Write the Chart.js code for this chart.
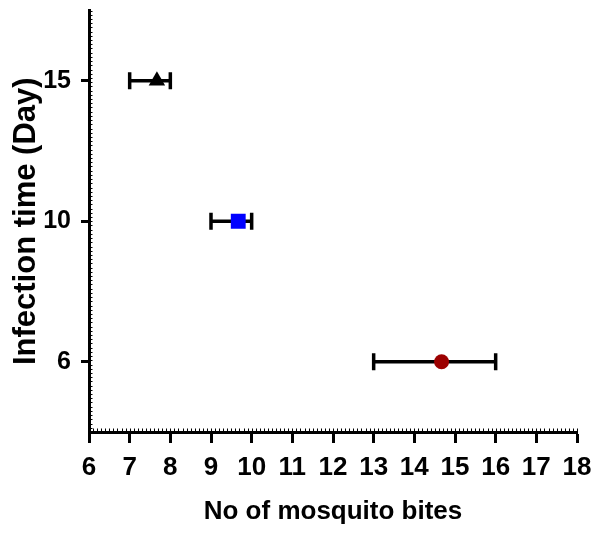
<!DOCTYPE html>
<html><head><meta charset="utf-8">
<script src="https://cdn.jsdelivr.net/npm/chart.js@4"></script>
<style>html,body{margin:0;padding:0;background:#fff}#wrap{width:592px;height:533px;position:relative}</style>
</head><body><div id="wrap"><canvas id="c"></canvas></div>
<script>
const categories = ['6', '10', '15'];
const meanBites = [14.67, 9.67, 7.67];
const lowBites = [13, 9, 7];
const highBites = [16, 10, 8];
const xMin = 6, xMax = 18;
const xTitle = 'No of mosquito bites';
const yTitle = 'Infection time (Day)';
const pointStyles = ['circle', 'rect', 'triangle'];
const pointColors = ['#9c0000', '#0000ff', '#000000'];
const pointRadii = [7.5, 10.5, 9.5];

const datasets = categories.map((c, i) => ({
  label: 'Day ' + c,
  data: [{ x: meanBites[i], y: i, low: lowBites[i], high: highBites[i] }],
  pointStyle: pointStyles[i],
  backgroundColor: pointColors[i],
  borderColor: pointColors[i],
  borderWidth: 0,
  pointRadius: pointRadii[i],
  pointHoverRadius: pointRadii[i]
}));

const errorBars = {
  id: 'errorBars',
  beforeDatasetsDraw(chart) {
    const ctx = chart.ctx, xs = chart.scales.x, ys = chart.scales.y;
    ctx.save();
    ctx.strokeStyle = '#000';
    ctx.lineWidth = 3.5;
    chart.data.datasets.forEach(ds => ds.data.forEach(p => {
      const y = ys.getPixelForValue(p.y);
      const x1 = xs.getPixelForValue(p.low), x2 = xs.getPixelForValue(p.high);
      ctx.beginPath();
      ctx.moveTo(x1, y); ctx.lineTo(x2, y);
      ctx.moveTo(x1, y - 8.5); ctx.lineTo(x1, y + 8.5);
      ctx.moveTo(x2, y - 8.5); ctx.lineTo(x2, y + 8.5);
      ctx.stroke();
    }));
    ctx.restore();
  }
};

const minorTicks = {
  id: 'minorTicks',
  afterDraw(chart) {
    const ctx = chart.ctx, xs = chart.scales.x, ys = chart.scales.y, a = chart.chartArea;
    ctx.save();
    ctx.strokeStyle = '#000';
    ctx.lineWidth = 1;
    ctx.beginPath();
    for (let k = 0; k <= (xMax - xMin) * 10; k++) {
      const px = Math.round(xs.getPixelForValue(xMin + k / 10)) + 0.5;
      ctx.moveTo(px, a.bottom); ctx.lineTo(px, a.bottom - 3.5);
    }
    for (let k = 0; k <= 100; k++) {
      const py = Math.round(ys.getPixelForValue(-0.5 + k * 0.03)) + 0.5;
      ctx.moveTo(a.left, py); ctx.lineTo(a.left + 3.5, py);
    }
    ctx.stroke();
    ctx.restore();
  }
};

const sans = '"Liberation Sans", Arial, sans-serif';

new Chart(document.getElementById('c'), {
  type: 'scatter',
  data: { datasets },
  plugins: [errorBars, minorTicks],
  options: {
    responsive: true,
    maintainAspectRatio: false,
    animation: false,
    layout: { padding: { left: 0, right: 15, top: 8, bottom: 0 } },
    plugins: { legend: { display: false }, tooltip: { enabled: false } },
    scales: {
      x: {
        type: 'linear', min: xMin, max: xMax,
        ticks: { stepSize: 1, color: '#000', autoSkip: false, maxRotation: 0, padding: 9,
          font: { family: sans, size: 26, weight: 'bold' } },
        grid: { drawOnChartArea: false, drawTicks: true, tickLength: 11, tickWidth: 3, tickColor: '#000' },
        border: { display: true, color: '#000', width: 3 },
        title: { display: true, text: xTitle, color: '#000', padding: { top: 0, bottom: 6 },
          font: { family: sans, size: 26, weight: 'bold' } },
        afterFit: s => { s.height = 101; s.paddingLeft = 0; s.paddingRight = 0; }
      },
      y: {
        type: 'linear', min: -0.5, max: 2.5,
        afterBuildTicks: s => { s.ticks = categories.map((c, i) => ({ value: i })); },
        ticks: { color: '#000', padding: 10, callback: v => categories[v],
          font: { family: sans, size: 25, weight: 'bold' } },
        grid: { drawOnChartArea: false, drawTicks: true, tickLength: 8, tickWidth: 3, tickColor: '#000' },
        border: { display: true, color: '#000', width: 3 },
        title: { display: true, text: yTitle, color: '#000', padding: { top: 8, bottom: 0 },
          font: { family: sans, size: 31, weight: 'bold' } },
        afterFit: s => { s.width = 89; s.paddingTop = 0; s.paddingBottom = 0; }
      }
    }
  }
});
</script>
</body></html>
